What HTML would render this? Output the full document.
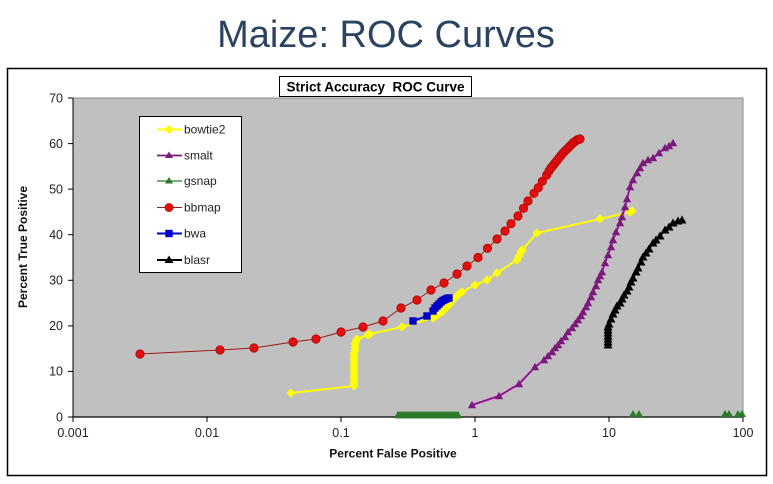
<!DOCTYPE html>
<html><head><meta charset="utf-8"><style>
html,body{margin:0;padding:0;background:#fff;}
svg{display:block;}
text{font-family:"Liberation Sans",Arial,sans-serif;}
</style></head><body>
<svg width="773" height="484" viewBox="0 0 773 484" xmlns="http://www.w3.org/2000/svg">
<defs>
<marker id="mY" markerUnits="userSpaceOnUse" markerWidth="10" markerHeight="10" refX="5" refY="5" overflow="visible"><path d="M5,0.5 L9.5,5 L5,9.5 L0.5,5 Z" fill="#ffff00"/></marker>
<marker id="mR" markerUnits="userSpaceOnUse" markerWidth="10" markerHeight="10" refX="5" refY="5" overflow="visible"><circle cx="5" cy="5" r="4.2" fill="#e01010" stroke="#b80000" stroke-width="0.8"/></marker>
<marker id="mB" markerUnits="userSpaceOnUse" markerWidth="10" markerHeight="10" refX="5" refY="5" overflow="visible"><rect x="1.3" y="1.3" width="7.4" height="7.4" fill="#0000c8"/></marker>
<marker id="mP" markerUnits="userSpaceOnUse" markerWidth="10" markerHeight="10" refX="5" refY="5" overflow="visible"><path d="M5,0.8 L9.2,8.2 L0.8,8.2 Z" fill="#7a1a7a"/></marker>
<marker id="mG" markerUnits="userSpaceOnUse" markerWidth="10" markerHeight="10" refX="5" refY="5" overflow="visible"><path d="M5,0.8 L9.2,8.2 L0.8,8.2 Z" fill="#2a7a2a"/></marker>
<marker id="mK" markerUnits="userSpaceOnUse" markerWidth="10" markerHeight="10" refX="5" refY="5" overflow="visible"><path d="M5,0.5 L9.5,8.5 L0.5,8.5 Z" fill="#000"/></marker>
</defs>

<text x="386" y="47" text-anchor="middle" font-size="38" fill="#2b4360">Maize: ROC Curves</text>

<rect x="7.5" y="68.5" width="759" height="407" fill="#fff" stroke="#000" stroke-width="1.5"/>

<rect x="73" y="98" width="670" height="319" fill="#c0c0c0" stroke="#8a8a8a" stroke-width="1"/>

<!-- axes -->
<line x1="73" y1="98" x2="73" y2="417.5" stroke="#000" stroke-width="1"/>
<line x1="72.5" y1="417" x2="743" y2="417" stroke="#000" stroke-width="1.2"/>
<g stroke="#000" stroke-width="1">
<line x1="68" y1="98" x2="73" y2="98"/>
<line x1="68" y1="143.6" x2="73" y2="143.6"/>
<line x1="68" y1="189.1" x2="73" y2="189.1"/>
<line x1="68" y1="234.7" x2="73" y2="234.7"/>
<line x1="68" y1="280.3" x2="73" y2="280.3"/>
<line x1="68" y1="325.9" x2="73" y2="325.9"/>
<line x1="68" y1="371.4" x2="73" y2="371.4"/>
<line x1="68" y1="417" x2="73" y2="417"/>
<line x1="73" y1="417" x2="73" y2="422"/>
<line x1="207" y1="417" x2="207" y2="422"/>
<line x1="341" y1="417" x2="341" y2="422"/>
<line x1="475" y1="417" x2="475" y2="422"/>
<line x1="609" y1="417" x2="609" y2="422"/>
<line x1="743" y1="417" x2="743" y2="422"/>
</g>
<g font-size="12.5" fill="#222" text-anchor="end">
<text x="63" y="102.5">70</text>
<text x="63" y="148">60</text>
<text x="63" y="193.5">50</text>
<text x="63" y="239">40</text>
<text x="63" y="284.5">30</text>
<text x="63" y="330">20</text>
<text x="63" y="375.5">10</text>
<text x="63" y="421.5">0</text>
</g>
<g font-size="12.5" fill="#222" text-anchor="middle">
<text x="73" y="437">0.001</text>
<text x="207" y="437">0.01</text>
<text x="341" y="437">0.1</text>
<text x="475" y="437">1</text>
<text x="609" y="437">10</text>
<text x="743" y="437">100</text>
</g>
<text x="393" y="457.5" text-anchor="middle" font-size="12" font-weight="bold" fill="#111">Percent False Positive</text>
<text transform="translate(27,247) rotate(-90)" text-anchor="middle" font-size="12" font-weight="bold" fill="#111">Percent True Positive</text>

<!-- title box -->
<rect x="279.5" y="76.5" width="192" height="20" fill="#fff" stroke="#000" stroke-width="1"/>
<text x="375.5" y="91.5" text-anchor="middle" font-size="13.5" font-weight="bold" fill="#000" xml:space="preserve">Strict Accuracy  ROC Curve</text>

<!-- gsnap -->
<polyline fill="none" stroke="#2a7a2a" stroke-width="1.2" marker-start="url(#mG)" marker-mid="url(#mG)" marker-end="url(#mG)"
points="398,415 400,415 402,415 404,415 406,415 408,415 410,415 412,415 414,415 416,415 418,415 420,415 422,415 424,415 426,415 428,415 430,415 432,415 434,415 436,415 438,415 440,415 442,415 444,415 446,415 448,415 450,415 452,415 454,415 456,415 458,415"/>
<g fill="#2a7a2a">
<path d="M633,410 L637,417 L629,417 Z"/><path d="M639,410 L643,417 L635,417 Z"/>
<path d="M725,410 L729,417 L721,417 Z"/><path d="M729,410 L733,417 L725,417 Z"/>
<path d="M738,410 L742,417 L734,417 Z"/><path d="M742,410 L746,417 L738,417 Z"/>
</g>

<!-- bbmap red -->
<polyline fill="none" stroke="#a01818" stroke-width="1" marker-start="url(#mR)" marker-mid="url(#mR)" marker-end="url(#mR)"
points="140,354 220,350 254,348 293,342 316,339 341,332 363,327 383,321 401,308 417,300 431,290 444,283 457,274 467,266 478,257.5 487.5,248.3 497,239 505,231 511,223.7 518,216 523.5,208.3 528,201 534,193.3 538.3,187.7 542.3,181.3 546.7,175 549,171 551,168 553,165.5 555,163 557,160.5 559,158 561,155.5 563,153 565,151 567,149 569,147 571,145 573,143 575,141.5 577,140 579,139.3 580,139"/>

<!-- bowtie2 yellow -->
<polyline fill="none" stroke="#ffff00" stroke-width="2" marker-start="url(#mY)" marker-mid="url(#mY)" marker-end="url(#mY)"
points="291,393 354,386 354,383 354,380 354,377 354,374 354,371 354,368 354,365 354,362 354,359 354,356 354,353 355,350 355,347 355,344 356,341 357,339 368,335 370,334 402,327 433,318 436,316 439,314 442,312 445,309 447,307 450,304 453,300 456,297 459,294 462,292 475,285 487,280 497,273 517,260 519,256 521,252 522,250 537,233 600,219 630,212 632,211"/>

<!-- bwa blue -->
<polyline fill="none" stroke="#0000c8" stroke-width="2" marker-start="url(#mB)" marker-mid="url(#mB)" marker-end="url(#mB)"
points="413,321 427,316 433,311 435,308 437,306 439,304 441,302 443,300.5 445,299.5 447,298.5 449,298"/>

<!-- smalt purple -->
<polyline fill="none" stroke="#e8a0e8" stroke-width="3.5" points="472,405 499,396 519,384 535,367 544,360 548,356 552,352 555,348 558,345 561,341 565,337 568,332 572,328 575,324 578,320 581,316 583,312 586,307 588,303 591,297 593,292 596,286 598,280 600,276 602,272 605,263 608,255 611,247 613,240 616,232 620,223 622,217 625,207 627,199 630,187 633,180 637,173 640,168 643,163 648,160 653,158 659,153 665,148 669,146 673,143"/>
<polyline fill="none" stroke="#7a1a7a" stroke-width="1.8" marker-start="url(#mP)" marker-mid="url(#mP)" marker-end="url(#mP)"
points="472,405 499,396 519,384 535,367 544,360 548,356 552,352 555,348 558,345 561,341 565,337 568,332 572,328 575,324 578,320 581,316 583,312 586,307 588,303 591,297 593,292 596,286 598,280 600,276 602,272 605,263 608,255 611,247 613,240 616,232 620,223 622,217 625,207 627,199 630,187 633,180 637,173 640,168 643,163 648,160 653,158 659,153 665,148 669,146 673,143"/>

<!-- blasr black -->
<polyline fill="none" stroke="#000" stroke-width="2" marker-start="url(#mK)" marker-mid="url(#mK)" marker-end="url(#mK)"
points="608,345 608,342 608,339 608,336 608,333 608,330 608,327 609,324 611,319 613,314 615,310 617,306 620,303 622,299 624,295 627,291 629,287 631,282 633,278 636,272 638,268 641,262 643,257 646,253 649,249 653,243 656,240 660,236 665,230 669,227 673,223 678,221 682,220"/>

<!-- legend -->
<rect x="139.5" y="116.5" width="102" height="156" fill="#fff" stroke="#000" stroke-width="1"/>
<g font-size="12" fill="#222">
<line x1="157" y1="129.5" x2="182" y2="129.5" stroke="#ffff00" stroke-width="2"/>
<path d="M169,125 L173.5,129.5 L169,134 L164.5,129.5 Z" fill="#ffff00"/>
<text x="184" y="133.5">bowtie2</text>

<line x1="157" y1="155.5" x2="182" y2="155.5" stroke="#7a1a7a" stroke-width="1.8"/>
<path d="M169,151.5 L173,158 L165,158 Z" fill="#7a1a7a"/>
<text x="184" y="159.5">smalt</text>

<line x1="157" y1="181" x2="182" y2="181" stroke="#2a7a2a" stroke-width="1.2"/>
<path d="M169,177 L173,183.5 L165,183.5 Z" fill="#2a7a2a"/>
<text x="184" y="185">gsnap</text>

<line x1="157" y1="207.5" x2="182" y2="207.5" stroke="#a01818" stroke-width="1"/>
<circle cx="169" cy="207.5" r="4" fill="#e01010" stroke="#b80000" stroke-width="0.8"/>
<text x="184" y="211.5">bbmap</text>

<line x1="157" y1="233.5" x2="182" y2="233.5" stroke="#0000c8" stroke-width="2"/>
<rect x="165.3" y="229.8" width="7.4" height="7.4" fill="#0000c8"/>
<text x="184" y="237.5">bwa</text>

<line x1="157" y1="260" x2="182" y2="260" stroke="#000" stroke-width="2"/>
<path d="M169,255.5 L173.5,263 L164.5,263 Z" fill="#000"/>
<text x="184" y="264">blasr</text>
</g>
</svg>
</body></html>
